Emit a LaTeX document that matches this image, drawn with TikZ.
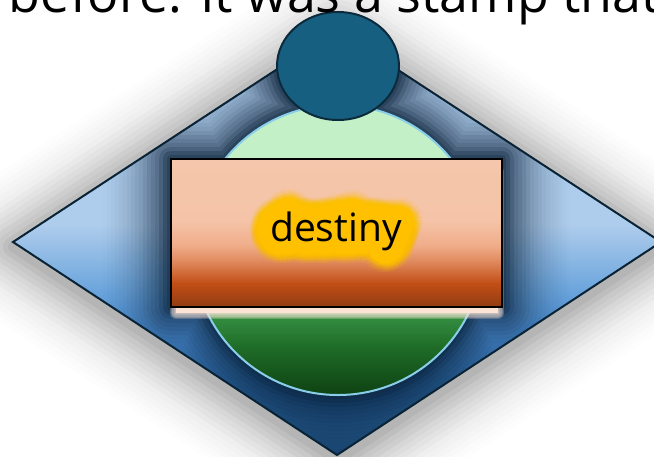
\documentclass[tikz,border=0pt]{standalone}
\usepackage{fontspec}
\setmainfont{Open Sans}
\definecolor{dline}{HTML}{0A2334}
\definecolor{dA}{HTML}{B0CEEE}
\definecolor{dB}{HTML}{AECCEC}
\definecolor{dC}{HTML}{6BA5DC}
\definecolor{dD}{HTML}{4A8DD4}
\definecolor{dE}{HTML}{2F6AA8}
\definecolor{dF}{HTML}{1B4470}
\definecolor{navysh}{HTML}{10263D}
\definecolor{gA}{HTML}{C3F0C6}
\definecolor{gB}{HTML}{338C40}
\definecolor{gC}{HTML}{1F6E28}
\definecolor{gD}{HTML}{0D3D10}
\definecolor{cline}{HTML}{8ACFEA}
\definecolor{rA}{HTML}{F5C6AB}
\definecolor{rB}{HTML}{F5C4A8}
\definecolor{rC}{HTML}{F0AD8A}
\definecolor{rD}{HTML}{DD8558}
\definecolor{rE}{HTML}{C24E16}
\definecolor{rF}{HTML}{8B3A12}
\definecolor{cream}{HTML}{FBE4D6}
\definecolor{glow}{HTML}{FFC000}
\definecolor{efill}{HTML}{175F80}
\definecolor{eline}{HTML}{0B2B3C}
\newcommand\destfont{\fontsize{39}{47}\selectfont}
\newcommand\topfont{\fontsize{52}{62}\selectfont}
\def\diamondpath{(13,242) -- (337,30) -- (661,242) -- (337,455) -- cycle}
\begin{document}
\begin{tikzpicture}[x=1pt,y=-1pt,
  diamondline/.style={draw=dline, line width=2pt, line join=miter},
  circline/.style={draw=cline, line width=2pt},
  rectline/.style={draw=black, line width=1.2pt},
  ellshape/.style={fill=efill, draw=eline, line width=2pt},
  dest/.style={font=\destfont, inner sep=0pt, anchor=base},
  toptxt/.style={font=\topfont, inner sep=0pt, anchor=base, text=black}]
\useasboundingbox (0,0) rectangle (654,456);
\clip (0,0) rectangle (654,456);
\coordinate (labelpos) at (336,241);

% soft grey shadow of the diamond
\foreach \r/\o in {5/0.047,10/0.047,15/0.047,20/0.047,25/0.025,30/0.025,35/0.025,40/0.025,45/0.011,50/0.011,55/0.011,60/0.011,65/0.008,70/0.008}
  \draw[black, opacity=\o, line width={2*\r pt}, line join=round, shift={(0,5)}] \diamondpath;

% diamond fill (vertical gradient) and navy shadow inside
\begin{scope}
  \clip \diamondpath;
  \shade[top color=dA, bottom color=dB] (0,25) rectangle (670,225.5);
  \shade[top color=dB, bottom color=dC] (0,225) rectangle (670,290.5);
  \shade[top color=dC, bottom color=dD] (0,290) rectangle (670,330.5);
  \shade[top color=dD, bottom color=dE] (0,330) rectangle (670,380.5);
  \shade[top color=dE, bottom color=dF] (0,380) rectangle (670,460);
  \foreach \r/\o in {4/0.26,8/0.26,12/0.18,16/0.11,20/0.1,24/0.095,28/0.085,32/0.06,36/0.05,40/0.042,44/0.036,48/0.03,52/0.025,56/0.022,60/0.018,64/0.014,68/0.011}
    \draw[navysh, opacity=\o, line width={2*\r pt}, line join=round]
      (338,250) circle (145) (171,159) rectangle (502,307) (338,66) ellipse (61 and 54);
\end{scope}
\draw[diamondline] \diamondpath;

% green circle
\begin{scope}
  \clip (338,250) circle (145);
  \fill[gA] (190,100) rectangle (490,300.5);
  \shade[top color=gA, bottom color=gB] (190,300) rectangle (490,318.5);
  \shade[top color=gB, bottom color=gC] (190,318) rectangle (490,345.5);
  \shade[top color=gC, bottom color=gD] (190,345) rectangle (490,400);
\end{scope}
\draw[circline] (338,250) circle (145);

% light shadow below the rectangle
\fill[cream] (176,172) rectangle (498,313);
\foreach \k in {1,...,5}
  \draw[cream, opacity=0.25, line width={\k*2.4pt}, line join=round] (176,172) rectangle (498,313);

% rectangle with gradient
\begin{scope}
  \clip (171,159) rectangle (502,307);
  \shade[top color=rA, bottom color=rB] (165,155) rectangle (510,220.5);
  \shade[top color=rB, bottom color=rC] (165,220) rectangle (510,245.5);
  \shade[top color=rC, bottom color=rD] (165,245) rectangle (510,263.5);
  \shade[top color=rD, bottom color=rE] (165,263) rectangle (510,283.5);
  \shade[top color=rE, bottom color=rF] (165,283) rectangle (510,310);
\end{scope}
\draw[rectline] (171,159) rectangle (502,307);

% yellow glow around the label
\foreach \r/\o in {1.5/1,3/1,4.5/1,6/1,7.5/1,9/1,10.5/1,12/1,13.5/1,15/0.4,16.5/0.3,18/0.22,19.5/0.15,21/0.1,22.5/0.07}{
  \foreach \a in {0,10,...,350}{
    \node[dest, text=glow, opacity=\o] at ([shift={(\a:\r pt)}]labelpos) {destiny};
  }
}
\node[dest, text=black] (label) at (labelpos) {destiny};

% top ellipse
\draw[ellshape] (338,66) ellipse (61 and 54);

% clipped sentence at the top
\node[toptxt] (sentence) at (336,12.5) {t before. It was a stamp that r};
\end{tikzpicture}
\end{document}
